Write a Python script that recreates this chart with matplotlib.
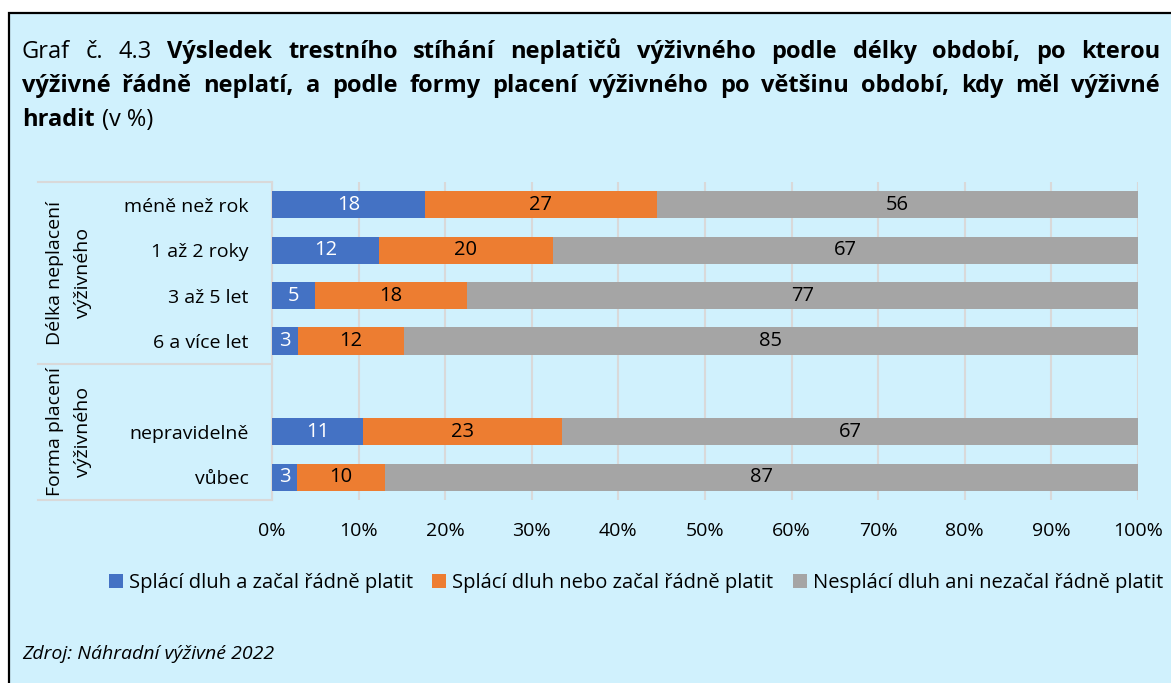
import matplotlib
matplotlib.use("Agg")
import matplotlib.pyplot as plt
from matplotlib.patches import Rectangle, Patch
import matplotlib.transforms as mtransforms

plt.rcParams['font.family'] = ['Open Sans', 'DejaVu Sans']

categories = ["méně než rok", "1 až 2 roky", "3 až 5 let", "6 a více let", "",
              "nepravidelně", "vůbec"]
splaci_a_plati = [17.7, 12.4, 5.0, 3.0, 0, 10.5, 2.9]
splaci_nebo_plati = [26.7, 20.0, 17.5, 12.2, 0, 23.0, 10.1]
nesplaci = [55.6, 67.6, 77.5, 84.8, 0, 66.5, 87.0]
labels_a = ["18", "12", "5", "3", "", "11", "3"]
labels_nebo = ["27", "20", "18", "12", "", "23", "10"]
labels_ne = ["56", "67", "77", "85", "", "67", "87"]
series_names = ["Splácí dluh a začal řádně platit",
                "Splácí dluh nebo začal řádně platit",
                "Nesplácí dluh ani nezačal řádně platit"]
groups = [("Délka neplacení\nvýživného", 0, 3), ("Forma placení\nvýživného", 4, 6)]
xticks = list(range(0, 101, 10))

BLUE, ORANGE, GRAY = "#4472C4", "#ED7D31", "#A5A5A5"
BG = "#D0F1FD"
W, H = 1171, 683
FS = 14

fig = plt.figure(figsize=(W / 100, H / 100), dpi=100, facecolor="white")
fig.patches.append(Rectangle((9 / W, -0.05), 1.1, 1 - 13 / H + 0.05, transform=fig.transFigure,
                             facecolor=BG, edgecolor="black", linewidth=1.6, zorder=-1))

ax = fig.add_axes([272 / W, 1 - 500 / H, 866 / W, 318 / H])
ax.set_facecolor("none")
y = list(range(len(categories)))
left = [0] * len(y)
for vals, col, labs, tcol in [(splaci_a_plati, BLUE, labels_a, "white"),
                              (splaci_nebo_plati, ORANGE, labels_nebo, "black"),
                              (nesplaci, GRAY, labels_ne, "black")]:
    ax.barh(y, vals, left=left, height=0.6, color=col, zorder=3)
    for i in y:
        if labs[i]:
            ax.text(left[i] + vals[i] / 2, i, labs[i], ha="center", va="center",
                    color=tcol, fontsize=14.5, zorder=4)
    left = [l + v for l, v in zip(left, vals)]

ax.set_xlim(0, 100)
ax.set_ylim(6.5, -0.5)
ax.set_xticks(xticks)
ax.set_xticklabels([f"{t}%" for t in xticks], fontsize=FS)
ax.set_yticks(y)
ax.set_yticklabels(categories, fontsize=FS)
ax.tick_params(axis="x", length=0, pad=16)
ax.tick_params(axis="y", length=0, pad=17)
ax.grid(axis="x", color="#D9D9D9", linewidth=1.5, zorder=1)
for s in ["top", "right", "bottom"]:
    ax.spines[s].set_visible(False)
ax.spines["left"].set_color("#D9D9D9")
ax.spines["left"].set_linewidth(1.5)

# group boxes on the left
trans = mtransforms.blended_transform_factory(ax.transAxes, ax.transData)
x0 = (38 - 272) / 866
for yy in [-0.5, 3.5, 6.5]:
    ax.plot([x0, 0], [yy, yy], color="#D9D9D9", linewidth=1.5, transform=trans, clip_on=False)
for name, a, b in groups:
    ax.text((69 - 272) / 866, (a + b) / 2, name, rotation=90, ha="center", va="center",
            fontsize=FS, linespacing=1.65, transform=trans)

# legend
handles = [Patch(facecolor=c, edgecolor="none") for c in [BLUE, ORANGE, GRAY]]
fig.legend(handles, series_names, loc="center", bbox_to_anchor=(636 / W, 1 - 583 / H), ncol=3,
           frameon=False, fontsize=14.5, handlelength=0.7, handleheight=0.7,
           handletextpad=0.3, columnspacing=0.95)

fig.text(22 / W, 1 - 654 / H, "Zdroj: Náhradní výživné 2022", style="italic",
         fontsize=FS, va="center")

# justified title
title_lines = [
    ([(w, "normal") for w in "Graf č. 4.3".split()] +
     [(w, "bold") for w in "Výsledek trestního stíhání neplatičů výživného podle délky období, po kterou".split()], True, 58),
    ([(w, "bold") for w in "výživné řádně neplatí, a podle formy placení výživného po většinu období, kdy měl výživné".split()], True, 92),
    ([("hradit", "bold"), ("(v %)", "normal")], False, 126),
]
renderer = fig.canvas.get_renderer()
x_start, x_end = 22, 1160
for words, justify, base in title_lines:
    texts = [fig.text(0, 1 - base / H, w, fontsize=17, fontweight=wt, va="baseline")
             for w, wt in words]
    widths = [t.get_window_extent(renderer).width for t in texts]
    if justify:
        gap = (x_end - x_start - sum(widths)) / (len(texts) - 1)
    else:
        gap = 7
    x = x_start
    for t, wd in zip(texts, widths):
        t.set_x(x / W)
        x += wd + gap

fig.savefig("out.png", dpi=100, facecolor="white")
